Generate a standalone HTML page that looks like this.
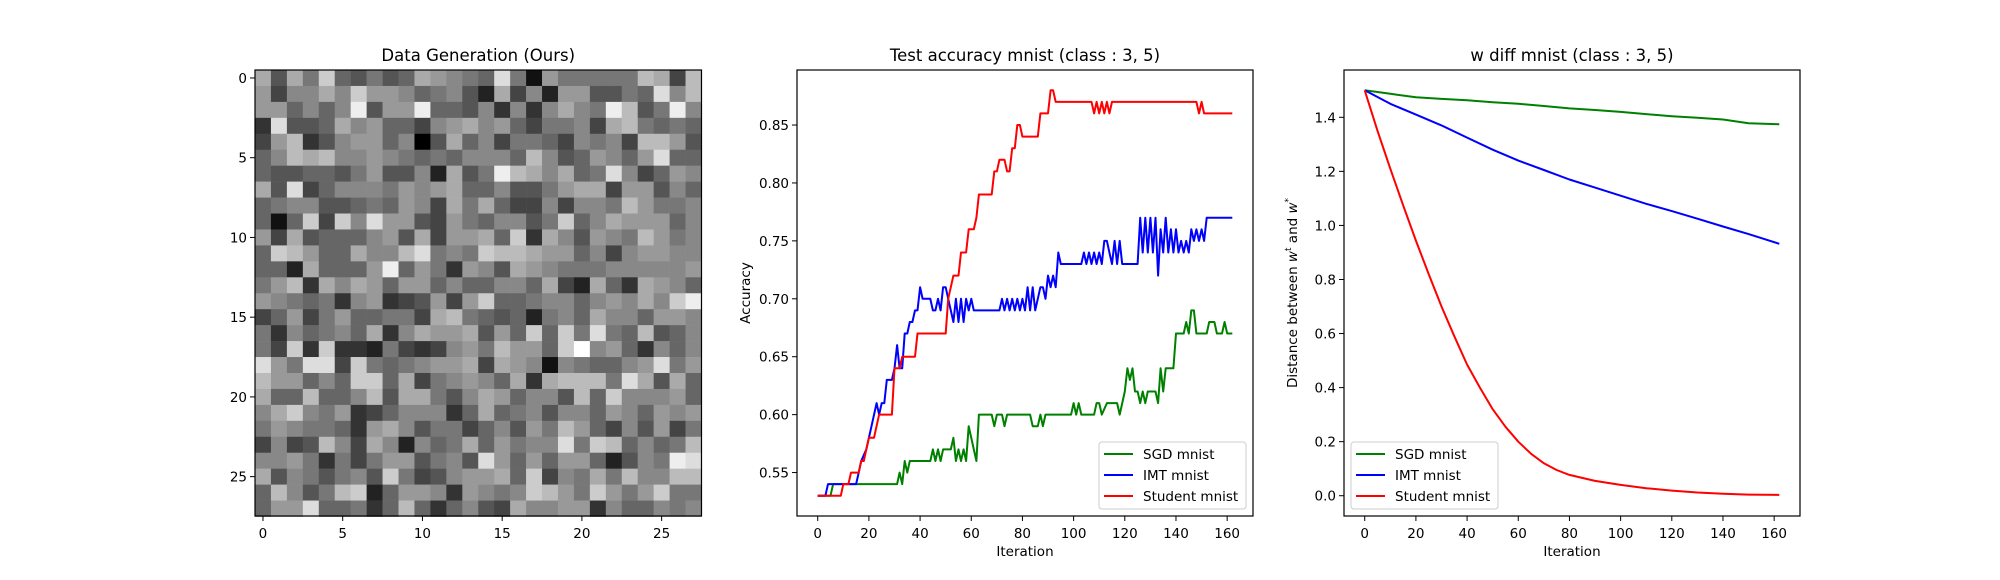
<!DOCTYPE html>
<html><head><meta charset="utf-8"><style>
body{margin:0;background:#fff}
svg{display:block;font-family:"DejaVu Sans","Liberation Sans",sans-serif}
</style></head><body>
<svg id="fig" width="2000" height="580" xmlns="http://www.w3.org/2000/svg">
<rect width="2000" height="580" fill="#fff"/>
<g id="p1"></g>
<g id="p2"></g>
<g id="p3"></g>
</svg>
<script>
const imgRows = [
"a5a7c65756a9876d71977777ba4b4","94 8a8c99867 52a482995576d8b66","996868e599e66583 38a87eb57e86","3d556a89664 9a896477 4ab76764 9","49b358996 05a6847764 7 4bb955ac","68bab889876768 86b8569 69d6665","6556657955 2a57eba a67d846986f","a5d468887989a6685579aa4995 68","678855676984a7a644848 7b977 8c","616c4c8d99549768857c68a9996 0","94a5666 95a499a6c3a859 7b978d7","6cb966a88bd787cbba9968489988","662a6669e69739 5a98777 888899 8","79b3a8a969968668 6a42a63a986b",
"98767389345949c667886 98a8ce8","46947966774ab76562786a88699","73867 6a38a99a596c6c7d76b568b","74c3c3327434 97b996cf896386 44","d97dd4c767 99a4a9818766 9d7946","b99686cc6a4789 6a3abbb7da5a68","a66b668b5aa758a968 5b6c888967","8ac87934688836a67858869869 9a","79 77639a857746 597b964 59478b6","4845b84a82 67a697 8d7cb6867b28","889737479957 5d969699625 7ed59","a58757 5c745 99a6c487a7b88bb66","6b857bc2699839878cb97c979c77","699d66736b636 54a88993866 7865"
];
const accTicks=[0.55,0.60,0.65,0.70,0.75,0.80,0.85];
const distTicks=[0.0,0.2,0.4,0.6,0.8,1.0,1.2,1.4];
const iterTicks=[0,20,40,60,80,100,120,140,160];
const imgTicks=[0,5,10,15,20,25];
const sgdAccX=[0,5,6,31,32,33,34,35,36,44,45,46,47,48,49,52,53,54,55,56,57,58,59,61,62,63,68,69,70,72,73,74,83,84,86,87,88,89,99,100,101,102,103,108,109,110,111,113,117,118,120,121,122,123,124,125,126,127,128,129,132,133,134,135,136,139,140,143,144,145,146,147,148,152,153,155,156,158,159,160,162];
const sgdAccY=[.53,.53,.54,.54,.55,.54,.56,.55,.56,.56,.57,.56,.57,.56,.57,.57,.58,.56,.57,.56,.57,.56,.59,.57,.56,.60,.60,.59,.60,.60,.59,.60,.60,.59,.59,.60,.59,.60,.60,.61,.60,.61,.60,.60,.61,.61,.60,.61,.61,.60,.62,.64,.63,.64,.62,.62,.61,.62,.61,.62,.62,.61,.64,.62,.64,.64,.67,.67,.68,.67,.69,.69,.67,.67,.68,.68,.67,.67,.68,.67,.67];
const imtAccX=[0,3,4,15,16,17,19,21,23,24,25,26,27,29,30,31,32,33,34,35,36,37,38,39,40,41,44,45,46,47,48,49,50,51,52,53,54,55,56,57,58,59,60,61,71,72,73,74,75,76,77,78,79,80,81,82,83,84,85,86,87,88,89,90,91,92,93,94,95,103,104,105,106,107,108,109,110,111,112,113,114,115,116,117,118,119,125,126,127,128,129,130,131,132,133,134,135,136,137,138,139,140,141,142,143,144,145,146,147,148,149,150,151,152,162];
const imtAccY=[.53,.53,.54,.54,.55,.56,.57,.59,.61,.60,.61,.61,.63,.63,.64,.66,.64,.64,.67,.67,.68,.68,.69,.69,.71,.70,.70,.69,.69,.70,.69,.71,.71,.70,.69,.68,.70,.68,.70,.68,.70,.69,.70,.69,.69,.70,.69,.70,.69,.70,.69,.70,.69,.70,.69,.71,.69,.71,.69,.70,.71,.71,.70,.72,.71,.72,.71,.74,.73,.73,.74,.73,.74,.73,.74,.73,.74,.73,.75,.75,.74,.73,.75,.73,.75,.73,.73,.77,.74,.77,.74,.77,.74,.77,.72,.76,.74,.77,.74,.76,.74,.76,.74,.75,.74,.75,.74,.76,.75,.76,.75,.76,.75,.77,.77];
const stuAccX=[0,9,10,12,13,16,17,18,19,20,22,24,29,30,32,33,38,39,50,51,52,53,55,56,58,59,61,62,63,68,69,70,71,73,74,75,76,77,78,79,80,86,87,90,91,92,93,107,108,109,110,111,112,113,114,115,148,149,150,151,162];
const stuAccY=[.53,.53,.54,.54,.55,.55,.56,.56,.57,.58,.58,.60,.60,.64,.64,.65,.65,.67,.67,.70,.71,.72,.72,.74,.74,.76,.76,.77,.79,.79,.81,.81,.82,.82,.81,.81,.83,.83,.85,.85,.84,.84,.86,.86,.88,.88,.87,.87,.86,.87,.86,.87,.86,.87,.86,.87,.87,.86,.87,.86,.86];
const distX=[0,10,20,30,40,50,60,70,80,90,100,110,120,130,140,150,162];
const sgdDist=[1.5,1.487,1.474,1.468,1.463,1.456,1.45,1.442,1.433,1.427,1.42,1.412,1.404,1.398,1.392,1.378,1.374];
const imtDist=[1.5,1.45,1.41,1.37,1.325,1.28,1.24,1.205,1.17,1.14,1.11,1.08,1.053,1.025,0.996,0.968,0.932];
const stuDistX=[0,5,10,15,20,25,30,35,40,45,50,55,60,65,70,75,80,90,100,110,120,130,140,150,162];
const stuDist=[1.5,1.35,1.21,1.075,0.944,0.82,0.70,0.59,0.485,0.40,0.32,0.255,0.20,0.155,0.12,0.095,0.077,0.055,0.04,0.028,0.019,0.012,0.007,0.004,0.003];

const NS="http://www.w3.org/2000/svg";
function mk(parent,tag,attrs,text){const e=document.createElementNS(NS,tag);for(const k in attrs)e.setAttribute(k,attrs[k]);if(text!==undefined)e.textContent=text;parent.appendChild(e);return e;}

const p1=document.getElementById('p1');
const L1=255,R1=701.5,T1=70,B1=516;
const cell=(R1-L1)/28;
const ix=v=>L1+(v+0.5)*cell, iy=v=>T1+(v+0.5)*cell;
imgRows.forEach((row,r)=>{
  const s=row.replace(/ /g,'8');
  for(let c=0;c<28;c++){
    const ch=s[c]||'8';
    const g=Math.round(parseInt(ch,16)*17);
    const rc=mk(p1,'rect',{x:ix(c-0.5),y:iy(r-0.5),width:cell+0.3,height:cell+0.3,fill:`rgb(${g},${g},${g})`});
    
    
  }
});
mk(p1,'rect',{x:L1,y:T1,width:R1-L1,height:B1-T1,fill:'none',stroke:'#000','stroke-width':1.2,});
imgTicks.forEach(t=>{
  mk(p1,'line',{x1:ix(t),x2:ix(t),y1:B1,y2:B1+5,stroke:'#000'});
  const tx=mk(p1,'text',{x:ix(t),y:B1+22,'font-size':13.5,'text-anchor':'middle'},String(t));
  
  mk(p1,'line',{x1:L1-5,x2:L1,y1:iy(t),y2:iy(t),stroke:'#000'});
  const ty=mk(p1,'text',{x:L1-8,y:iy(t)+5,'font-size':13.5,'text-anchor':'end'},String(t));
  
});
mk(p1,'text',{x:(L1+R1)/2,y:61,'font-size':16.5,'text-anchor':'middle',},'Data Generation (Ours)');

function panel(g,L,R,ymin,ymax,yt,fmt,title,ylabel,series,legendX){
  const T=70,B=516,xmin=-8.1,xmax=170.1;
  const sx=v=>L+(v-xmin)/(xmax-xmin)*(R-L);
  const sy=v=>B-(v-ymin)/(ymax-ymin)*(B-T);
  series.forEach(s=>{
    const pts=s.x.map((x,i)=>sx(x).toFixed(1)+','+sy(s.y[i]).toFixed(1)).join(' ');
    const pl=mk(g,'polyline',{points:pts,fill:'none',stroke:s.c,'stroke-width':2,'stroke-linejoin':'round'});
    
    
  });
  mk(g,'rect',{x:L,y:T,width:R-L,height:B-T,fill:'none',stroke:'#000','stroke-width':1.2,});
  iterTicks.forEach(t=>{
    mk(g,'line',{x1:sx(t),x2:sx(t),y1:B,y2:B+5,stroke:'#000'});
    const tx=mk(g,'text',{x:sx(t),y:B+22,'font-size':13.5,'text-anchor':'middle'},String(t));
    
  });
  yt.forEach(t=>{
    mk(g,'line',{x1:L-5,x2:L,y1:sy(t),y2:sy(t),stroke:'#000'});
    const ty=mk(g,'text',{x:L-8,y:sy(t)+5,'font-size':13.5,'text-anchor':'end'},t.toFixed(fmt));
    
  });
  mk(g,'text',{x:(L+R)/2,y:61,'font-size':16.5,'text-anchor':'middle',},title);
  mk(g,'text',{x:(L+R)/2,y:556,'font-size':13.5,'text-anchor':'middle',},'Iteration');
  const yl=mk(g,'text',{x:0,y:0,'font-size':13.5,'text-anchor':'middle',transform:`translate(${L-47},${(T+B)/2}) rotate(-90)`,});
  yl.innerHTML=ylabel;
  const lg=mk(g,'g',{});
  mk(lg,'rect',{x:legendX,y:442,width:147,height:67,rx:3,fill:'#fff',stroke:'#ccc','fill-opacity':0.8});
  series.forEach((s,i)=>{
    const y=454+i*21;
    const e=mk(lg,'g',{});
    
    
    mk(e,'line',{x1:legendX+5,x2:legendX+34,y1:y,y2:y,stroke:s.c,'stroke-width':2});
    mk(e,'text',{x:legendX+44,y:y+5,'font-size':13.5},s.label);
  });
}
panel(document.getElementById('p2'),797,1253,0.5125,0.8975,accTicks,2,'Test accuracy mnist (class : 3, 5)','Accuracy',
  [{x:sgdAccX,y:sgdAccY,c:'green',n:'sgd',label:'SGD mnist'},{x:imtAccX,y:imtAccY,c:'blue',n:'imt',label:'IMT mnist'},{x:stuAccX,y:stuAccY,c:'red',n:'student',label:'Student mnist'}],1099);
panel(document.getElementById('p3'),1344,1800,-0.075,1.575,distTicks,1,'w diff mnist (class : 3, 5)','Distance between <tspan font-style="italic">w</tspan><tspan font-size="9" dy="-6">t</tspan><tspan dy="6"> and </tspan><tspan font-style="italic">w</tspan><tspan font-size="9" dy="-6">*</tspan>',
  [{x:distX,y:sgdDist,c:'green',n:'sgd',label:'SGD mnist'},{x:distX,y:imtDist,c:'blue',n:'imt',label:'IMT mnist'},{x:stuDistX,y:stuDist,c:'red',n:'student',label:'Student mnist'}],1351);
</script>
</body></html>
